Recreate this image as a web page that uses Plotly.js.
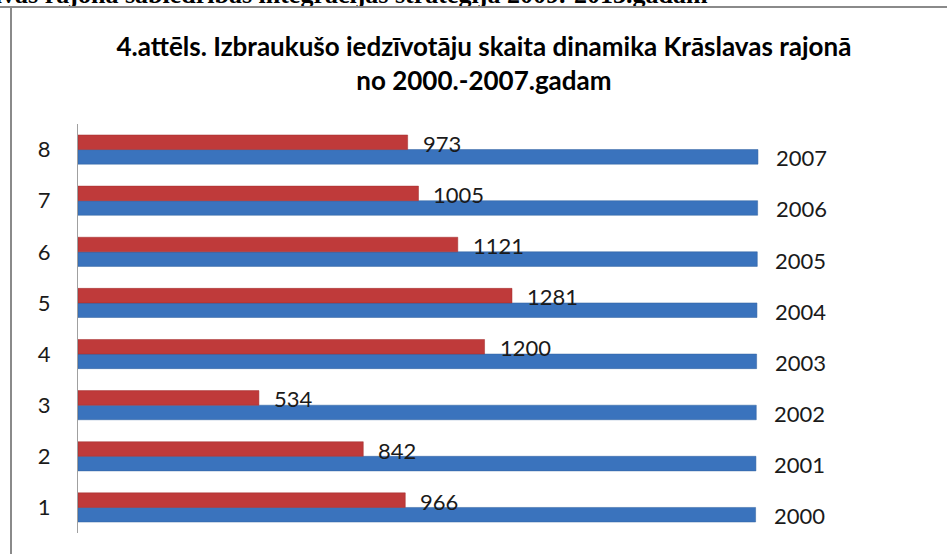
<!DOCTYPE html>
<html>
<head>
<meta charset="utf-8">
<script src="https://cdn.plot.ly/plotly-3.0.1.min.js"></script>
<style>
  html, body { margin: 0; padding: 0; background: #ffffff; }
  #wrap { position: relative; width: 947px; height: 554px; overflow: hidden; background: #fff; }
  #doc { position: absolute; left: 0; top: 0; width: 947px; height: 6px; overflow: hidden; }
  #doc span { position: absolute; left: -73px; top: -20px; font-family: "Liberation Serif", serif; font-weight: bold; font-size: 26px; line-height: 30px; color: #000; white-space: nowrap; }
  #topline { position: absolute; left: 0; top: 6px; width: 947px; height: 2px; background: #8a8a8a; }
  #leftline { position: absolute; left: 10px; top: 6px; width: 2px; height: 548px; background: #8a8a8a; }
  #chart { position: absolute; left: 0; top: 0; width: 947px; height: 554px; }
</style>
</head>
<body>
<div id="wrap">
  <div id="doc"><span>Krāslavas rajona sabiedrības integrācijas stratēģija 2009.-2013.gadam</span></div>
  <div id="topline"></div>
  <div id="leftline"></div>
  <div id="chart"></div>
</div>
<script>
// Data
const categories = [1, 2, 3, 4, 5, 6, 7, 8];
const departed = [966, 842, 534, 1200, 1281, 1121, 1005, 973];   // red series
const years = [2000, 2001, 2002, 2003, 2004, 2005, 2006, 2007];   // blue series
const tickLabels = ['1', '2', '3', '4', '5', '6', '7', '8'];

const bargap = 0.43;
const half = (1 - bargap) / 4;

const blue = {
  type: 'bar', orientation: 'h',
  y: categories, x: years,
  marker: { color: '#3a73bd', line: { color: '#30619f', width: 0.5 } },
  hoverinfo: 'x'
};
const red = {
  type: 'bar', orientation: 'h',
  y: categories, x: departed,
  marker: { color: '#bf3a3a', line: { color: '#a02f2f', width: 0.5 } },
  hoverinfo: 'x'
};

const labelFont = { family: 'Lato, "Open Sans", sans-serif', size: 22, color: '#1a1a1a' };
const annotations = [];
categories.forEach((c, i) => {
  annotations.push({
    x: departed[i], y: c + half, xref: 'x', yref: 'y',
    text: String(departed[i]), showarrow: false,
    xanchor: 'left', yanchor: 'middle', xshift: 13, yshift: -1, font: labelFont
  });
  annotations.push({
    x: years[i], y: c - half, xref: 'x', yref: 'y',
    text: String(years[i]), showarrow: false,
    xanchor: 'left', yanchor: 'middle', xshift: 16, yshift: -1, font: labelFont
  });
});

const layout = {
  width: 947, height: 554,
  margin: { l: 78, r: 22, t: 124, b: 21 },
  paper_bgcolor: 'rgba(0,0,0,0)',
  plot_bgcolor: 'rgba(0,0,0,0)',
  showlegend: false,
  barmode: 'group',
  bargap: bargap,
  bargroupgap: 0,
  title: {
    text: '4.attēls. Izbraukušo iedzīvotāju skaita dinamika Krāslavas rajonā<br>no 2000.-2007.gadam',
    font: { family: 'Lato, "Open Sans", sans-serif', size: 26, color: '#000', weight: 'bold' },
    xref: 'container', x: 0.511, xanchor: 'center',
    yref: 'container', y: 1 - 56 / 554, yanchor: 'middle'
  },
  xaxis: {
    range: [0, 2500], visible: false, fixedrange: true
  },
  yaxis: {
    type: 'linear', range: [0.5, 8.5],
    tickvals: categories, ticktext: tickLabels,
    showline: true, linecolor: '#a0a0a0', linewidth: 1,
    showgrid: false, zeroline: false, ticks: '',
    ticklabelstandoff: 22,
    tickfont: { family: 'Lato, "Open Sans", sans-serif', size: 22, color: '#1a1a1a' },
    fixedrange: true
  },
  annotations: annotations
};

Plotly.newPlot('chart', [blue, red], layout, { displayModeBar: false, staticPlot: true });
</script>
</body>
</html>
